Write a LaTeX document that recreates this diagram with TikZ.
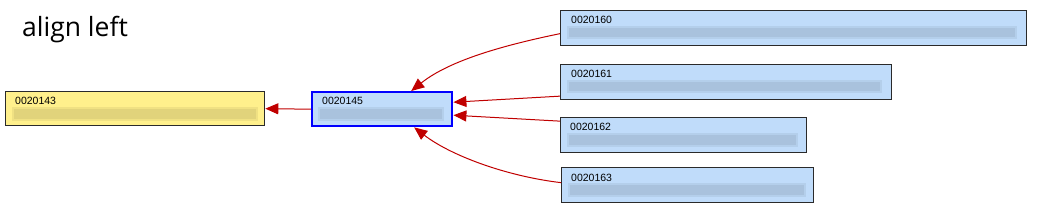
\documentclass[tikz,border=0pt]{standalone}
\usepackage{fontspec}
\setmainfont{Liberation Sans}
\newfontfamily\titlefont{Open Sans}
\usetikzlibrary{arrows.meta,calc}
\definecolor{edgered}{HTML}{C00000}
\definecolor{yfill}{HTML}{FFF08C}
\definecolor{bfill}{HTML}{C0DCFA}
\definecolor{boxline}{HTML}{2A2A2A}
\definecolor{selblue}{HTML}{0000FF}
\tikzset{
  box/.style={draw=boxline, line width=1.3pt, fill=bfill, anchor=north west, inner sep=0pt},
  ybox/.style={box, fill=yfill},
  selbox/.style={box, draw=selblue, line width=2.4pt},
  idtext/.style={anchor=base west, inner sep=0pt, font=\fontsize{10.5}{12}\selectfont},
  conn/.style={draw=edgered, line width=1pt, -{Triangle[length=13pt,width=11pt]}},
  titletext/.style={anchor=base west, inner sep=0pt, font=\titlefont\fontsize{26.5}{30}\selectfont}
}
\newcommand{\blurbar}[2]{%
  \fill[black, opacity=0.06] ($(#1.north west)+(7,16)$) rectangle ($(#1.north east)+(-#2,29.5)$);
  \fill[black, opacity=0.06] ($(#1.north west)+(9,18)$) rectangle ($(#1.north east)+(-#2-2,27.5)$);
}
\begin{document}
\begin{tikzpicture}[x=1pt,y=-1pt]
\useasboundingbox (0,0) rectangle (1040,211);
\node[titletext] (title) at (22,37) {align left};

\node[ybox, minimum width=259pt, minimum height=34pt] (n143) at (5,91) {};
\node[selbox, minimum width=140pt, minimum height=34pt] (n145) at (311,91) {};
\node[box, minimum width=466pt, minimum height=35pt] (n160) at (560,10) {};
\node[box, minimum width=331pt, minimum height=35pt] (n161) at (560,64) {};
\node[box, minimum width=246pt, minimum height=35pt] (n162) at (560,117) {};
\node[box, minimum width=252pt, minimum height=35pt] (n163) at (561,167) {};

\node[idtext] (t143) at ($(n143.north west)+(10,13.5)$) {0020143};
\node[idtext] (t145) at ($(n145.north west)+(11,14)$) {0020145};
\node[idtext] (t160) at ($(n160.north west)+(11,14)$) {0020160};
\node[idtext] (t161) at ($(n161.north west)+(11,14)$) {0020161};
\node[idtext] (t162) at ($(n162.north west)+(10,14)$) {0020162};
\node[idtext] (t163) at ($(n163.north west)+(10,14)$) {0020163};

\blurbar{n143}{7}
\blurbar{n145}{9}
\blurbar{n160}{10}
\blurbar{n161}{10}
\blurbar{n162}{9}
\blurbar{n163}{8}

\draw[conn] (n145.west) -- (n143.east);
\draw[conn] ([yshift=-5.5pt]n160.west) .. controls (505,45) and (450,60) .. ([xshift=29pt]n145.north);
\draw[conn] ([yshift=-14pt]n161.west) -- ([yshift=7pt]n145.east);
\draw[conn] ([yshift=14pt]n162.west) -- ([yshift=-6pt]n145.east);
\draw[conn] ([yshift=2.5pt]n163.west) .. controls (505,176) and (450,155) .. ([xshift=32pt]n145.south);
\end{tikzpicture}
\end{document}
